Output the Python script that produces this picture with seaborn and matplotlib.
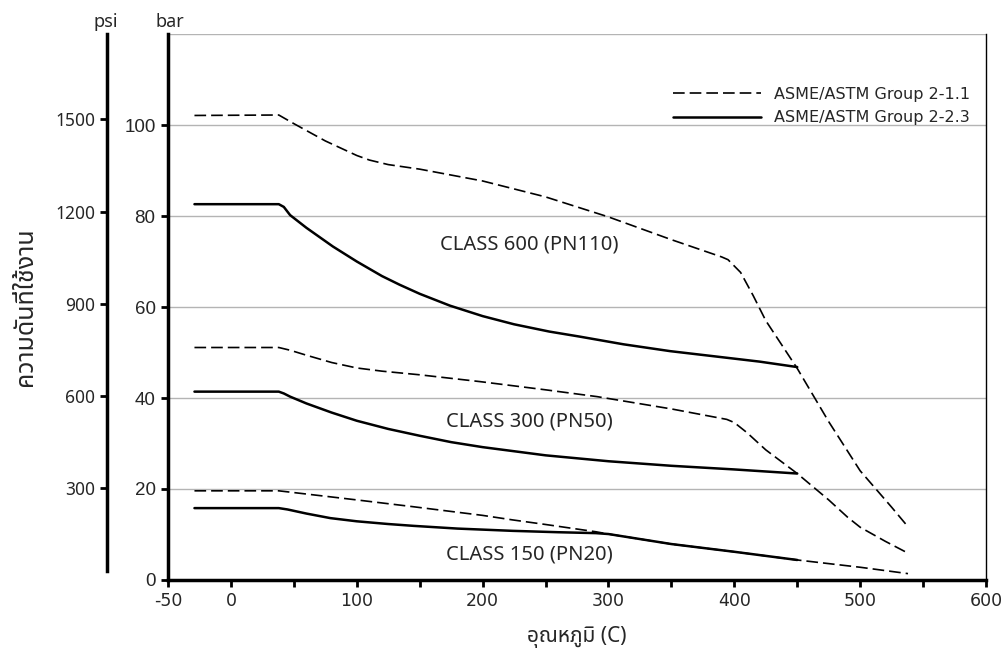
import matplotlib
matplotlib.use("Agg")
import matplotlib.pyplot as plt
from matplotlib.lines import Line2D
import seaborn as sns

# === Data ===
# temperature in C, pressure in bar
c600_dash_t = [-29, 38, 50, 75, 100, 110, 125, 150, 200, 250, 300, 350, 390, 395, 405, 415, 425, 450, 475, 500, 525, 538]
c600_dash_p = [102.1, 102.2, 100.3, 96.5, 93.3, 92.3, 91.3, 90.3, 87.7, 84.2, 79.8, 74.8, 71.0, 70.4, 67.6, 62.5, 57.0, 46.5, 34.8, 24.0, 16.0, 11.7]

c600_solid_t = [-29, 38, 42, 47, 60, 81, 100, 120, 134, 150, 174, 200, 225, 253, 277, 312, 349, 383, 420, 450]
c600_solid_p = [82.6, 82.6, 82.0, 80.2, 77.4, 73.3, 70.0, 66.8, 64.9, 62.9, 60.3, 58.0, 56.2, 54.6, 53.5, 51.8, 50.3, 49.2, 48.0, 46.8]

c300_dash_t = [-29, 38, 47, 60, 80, 100, 120, 150, 198, 250, 291, 350, 394, 400, 410, 425, 450, 475, 490, 500, 520, 538]
c300_dash_p = [51.1, 51.1, 50.5, 49.4, 47.8, 46.6, 45.9, 45.1, 43.6, 41.8, 40.3, 37.6, 35.3, 34.6, 32.4, 28.6, 23.4, 17.6, 13.8, 11.6, 8.5, 5.9]

c300_solid_t = [-29, 38, 42, 47, 60, 80, 100, 125, 150, 175, 200, 250, 300, 350, 400, 450]
c300_solid_p = [41.4, 41.4, 41.0, 40.3, 38.8, 36.8, 35.0, 33.2, 31.7, 30.3, 29.2, 27.4, 26.1, 25.1, 24.3, 23.4]

c150_dash_t = [-29, 38, 100, 145, 200, 224, 250, 290, 300, 350, 400, 450, 500, 538]
c150_dash_p = [19.6, 19.6, 17.6, 16.1, 14.2, 13.2, 12.2, 10.6, 10.1, 7.9, 6.2, 4.4, 2.8, 1.4]

c150_solid_t = [-29, 38, 45, 60, 79, 100, 125, 145, 180, 224, 260, 290, 300, 350, 400, 450]
c150_solid_p = [15.8, 15.8, 15.5, 14.6, 13.6, 12.9, 12.3, 11.9, 11.3, 10.8, 10.5, 10.3, 10.1, 7.9, 6.2, 4.4]

class_labels = ["CLASS 600 (PN110)", "CLASS 300 (PN50)", "CLASS 150 (PN20)"]
class_label_pos = [(237, 73.8), (237, 34.9), (237, 5.5)]

legend_labels = ["ASME/ASTM Group 2-1.1", "ASME/ASTM Group 2-2.3"]

x_ticks = list(range(-50, 601, 50))
x_ticklabels = [str(v) if (v == -50 or v % 100 == 0) else "" for v in x_ticks]
bar_ticks = [0, 20, 40, 60, 80, 100]
psi_ticks = [300, 600, 900, 1200, 1500]
PSI_PER_BAR = 14.82

# === Style ===
sns.set_style("white")
plt.rcParams["font.family"] = ["Noto Sans Thai", "Noto Sans", "DejaVu Sans"]

fig = plt.figure(figsize=(10.05, 6.53), dpi=100)
ax = fig.add_axes([0.1672, 0.1118, 0.8139, 0.8361])

dash_style = (0, (7, 3))
series = [
    (c600_dash_t, c600_dash_p, "dash"),
    (c300_dash_t, c300_dash_p, "dash"),
    (c150_dash_t, c150_dash_p, "dash"),
    (c600_solid_t, c600_solid_p, "solid"),
    (c300_solid_t, c300_solid_p, "solid"),
    (c150_solid_t, c150_solid_p, "solid"),
]
for t, p, kind in series:
    if kind == "dash":
        sns.lineplot(x=t, y=p, ax=ax, color="black", lw=1.2, linestyle=dash_style,
                     sort=False, estimator=None)
    else:
        sns.lineplot(x=t, y=p, ax=ax, color="black", lw=1.8, sort=False, estimator=None)

ax.set_xlim(-50, 600)
ax.set_ylim(0, 120)
ax.set_xticks(x_ticks)
ax.set_xticklabels(x_ticklabels, family=["Liberation Sans Narrow", "DejaVu Sans"], fontsize=12.5)
ax.set_yticks(bar_ticks)
ax.set_yticklabels([str(v) for v in bar_ticks], family=["Liberation Sans", "DejaVu Sans"], fontsize=13.5)
ax.yaxis.grid(True, color="#b4b4b4", lw=1)
ax.axhline(120, color="#b4b4b4", lw=1)
ax.set_axisbelow(True)
ax.tick_params(axis="both", direction="out", length=5, width=2, color="black",
               bottom=True, left=True, pad=4)

for side in ["left", "bottom"]:
    ax.spines[side].set_color("black")
    ax.spines[side].set_linewidth(2.5)
ax.spines["right"].set_color("black")
ax.spines["right"].set_linewidth(1)
ax.spines["top"].set_visible(False)

# psi axis on the far left
ax2 = ax.twinx()
ax2.set_ylim(0, 120 * PSI_PER_BAR)
ax2.yaxis.set_ticks_position("left")
ax2.yaxis.set_label_position("left")
ax2.spines["left"].set_position(("outward", 44))
ax2.spines["left"].set_visible(True)
ax2.spines["left"].set_color("black")
ax2.spines["left"].set_linewidth(2.5)
ax2.spines["left"].set_bounds(30, 120 * PSI_PER_BAR)
for side in ["right", "top", "bottom"]:
    ax2.spines[side].set_visible(False)
ax2.set_yticks(psi_ticks)
ax2.set_yticklabels([str(v) for v in psi_ticks], family=["Noto Sans", "DejaVu Sans"], fontsize=12.5)
ax2.tick_params(axis="y", direction="out", length=5, width=2, color="black", left=True, right=False)

# unit captions
fig.text(106 / 1005, 1 - 22 / 653, "psi", ha="center", va="center", fontsize=13)
fig.text(170 / 1005, 1 - 22 / 653, "bar", ha="center", va="center", fontsize=13)

# class labels
for txt, (tx, ty) in zip(class_labels, class_label_pos):
    ax.text(tx, ty, txt, ha="center", va="center", fontsize=14.5)

# axis titles (Thai)
fig.text(25 / 1005, 1 - 307 / 653, "ความดันที่ใช้งาน", rotation=90, ha="center", va="center", fontsize=18)
fig.text(577 / 1005, 1 - 637 / 653, "อุณหภูมิ (C)", ha="center", va="center", fontsize=15)

# legend
handles = [
    Line2D([], [], color="black", lw=1.2, linestyle=dash_style),
    Line2D([], [], color="black", lw=1.8),
]
ax.legend(handles, legend_labels, loc="upper right", bbox_to_anchor=(0.998, 0.93),
          frameon=False, handlelength=5.5, handletextpad=0.8,
          labelspacing=0.55, prop={"family": ["DejaVu Sans"], "size": 11.5})

fig.savefig("out.png", dpi=100)
